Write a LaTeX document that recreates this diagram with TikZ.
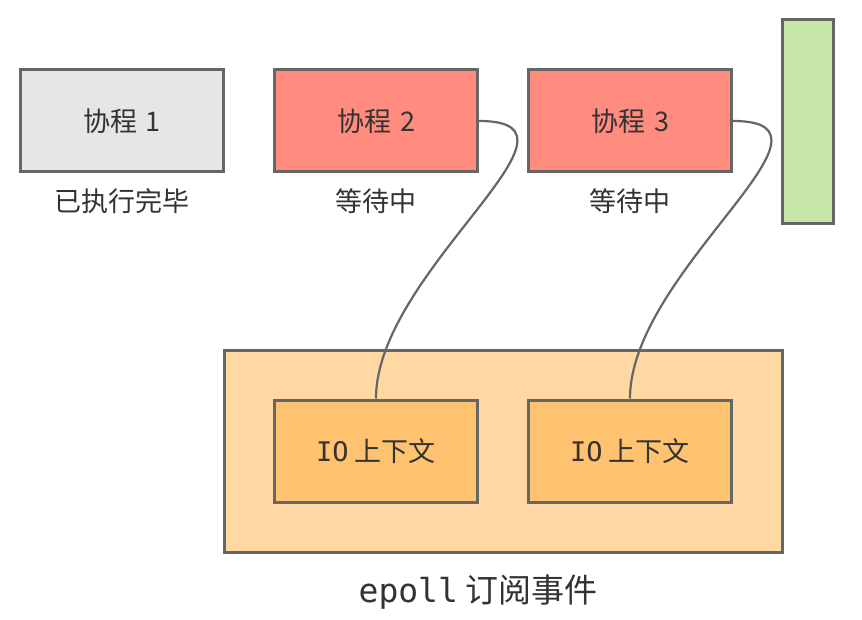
\documentclass[tikz,border=0pt]{standalone}
\usepackage{fontspec}
\setmainfont{Noto Sans CJK SC}
\setmonofont{DejaVu Sans Mono}
\usepackage{tikz}
\usetikzlibrary{calc,positioning}
\definecolor{edge}{HTML}{666666}
\definecolor{txt}{HTML}{333333}
\definecolor{done}{HTML}{E6E6E6}
\definecolor{wait}{HTML}{FF8C7E}
\definecolor{grn}{HTML}{C9E6A9}
\definecolor{pollbg}{HTML}{FFD8A3}
\definecolor{ctx}{HTML}{FFC36F}

\begin{document}
\begin{tikzpicture}[x=1pt, y=-1pt, font=\fontsize{27}{31}\selectfont, text=txt,
  box/.style={draw=edge, line width=3pt, rectangle, minimum width=203pt, minimum height=102pt, inner sep=0pt},
  lbl/.style={inner sep=0pt},
  link/.style={draw=edge, line width=2.2pt}]
\useasboundingbox (0,0) rectangle (862,620);
\node[box, fill=done] (co1) at (122,121) {协程\,\,1};
\node[lbl] (s1) at (122,201) {已执行完毕};
\foreach \i/\x in {2/376,3/630}{\node[box, fill=wait] (co\i) at (\x,121) {协程\,\,\i};
 \node[lbl] (s\i) at (\x,201) {等待中};}
\node[box, fill=grn, minimum width=51pt, minimum height=204pt] (side) at (807.5,122) {};
\node[box, fill=pollbg, minimum width=558pt, minimum height=202pt] (poll) at (503,451) {};
\foreach \i/\x in {1/376,2/630}{\node[box, fill=ctx] (io\i) at (\x,451) {{\ttfamily IO} 上下文};}
\node[lbl, font=\fontsize{33}{38}\selectfont] (ev) at (478,592) {{\ttfamily epoll} 订阅事件};
\draw[link] (co2.east) to[out=0, in=90, looseness=1.1] (io1.north);
\draw[link] (co3.east) to[out=0, in=90, looseness=1.1] (io2.north);
\end{tikzpicture}
\end{document}
